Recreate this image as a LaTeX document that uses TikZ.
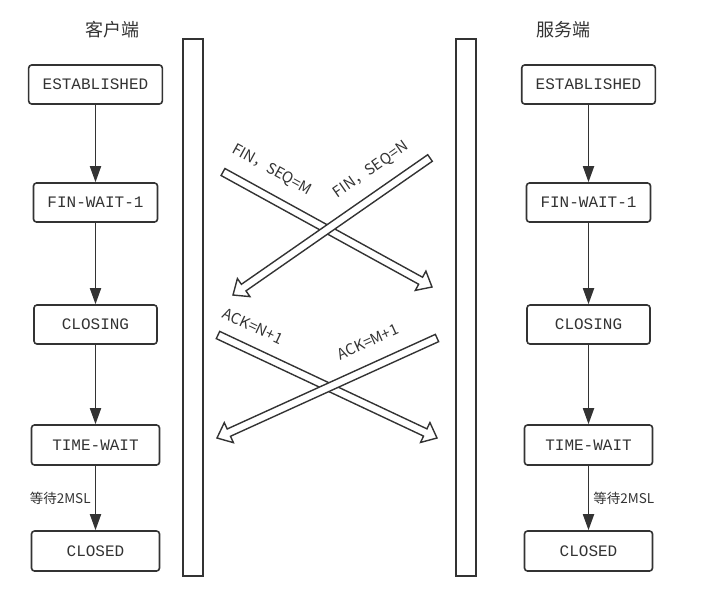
\documentclass[tikz,border=0pt]{standalone}
\usepackage{fontspec}
\setmainfont{Noto Sans CJK SC}
\setmonofont{Liberation Mono}
\usetikzlibrary{arrows.meta,calc}

\definecolor{ink}{HTML}{333333}

\tikzset{
  state/.style={draw=ink, line width=1.6pt, rounded corners=3pt, minimum width=123pt,
    minimum height=39pt, inner xsep=14pt, text=ink, font=\ttfamily\fontsize{16}{19}\selectfont},
  flow/.style={draw=ink, line width=1.8pt, -{Triangle[length=16pt,width=11pt]}},
  side/.style={text=ink, font=\fontsize{18}{21}\selectfont},
  wait/.style={text=ink, inner sep=4pt, font=\fontsize{13.5}{16}\selectfont},
  msg/.style={text=ink, inner sep=0pt, font=\fontsize{15}{17}\selectfont},
  hollow/.style={draw=ink, line width=1.4pt, fill=white, line join=miter},
  bar/.style={draw=ink, line width=1.7pt}
}

\newcommand\hollowarrow[2]{%
  \coordinate (hb) at ($(#2)!13pt!(#1)$);
  \draw[hollow] ($(#1)!4pt!90:(#2)$) -- ($(hb)!4pt!90:(#2)$) -- ($(hb)!11pt!90:(#2)$) -- (#2)
    -- ($(hb)!11pt!-90:(#2)$) -- ($(hb)!4pt!-90:(#2)$) -- ($(#1)!4pt!-90:(#2)$) -- cycle;}

\begin{document}
\begin{tikzpicture}[x=1pt,y=-1pt]
  \useasboundingbox (0,0) rectangle (703,598);

  \node[side] (client) at (112,30) {客户端};
  \node[side] (server) at (563,30) {服务端};

  \draw[bar] (183,39) rectangle (203,576);
  \draw[bar] (456,39) rectangle (476,576);

  % client side
  \node[state] (c1) at (95.5,84.5) {ESTABLISHED};
  \node[state] (c2) at (95.5,202.5) {FIN-WAIT-1};
  \node[state] (c3) at (95.5,324.5) {CLOSING};
  \node[state, minimum width=128pt, minimum height=40pt] (c4) at (95.5,445) {TIME-WAIT};
  \node[state, minimum width=128pt, minimum height=40pt] (c5) at (95.5,551) {CLOSED};

  \draw[flow] (c1) -- (c2);
  \draw[flow] (c2) -- (c3);
  \draw[flow] (c3) -- (c4);
  \draw[flow] (c4) -- node[wait, left] {等待2MSL} (c5);

  % server side
  \node[state] (s1) at (588.5,84.5) {ESTABLISHED};
  \node[state] (s2) at (588.5,202.5) {FIN-WAIT-1};
  \node[state] (s3) at (588.5,324.5) {CLOSING};
  \node[state, minimum width=128pt, minimum height=40pt] (s4) at (588.5,445) {TIME-WAIT};
  \node[state, minimum width=128pt, minimum height=40pt] (s5) at (588.5,551) {CLOSED};

  \draw[flow] (s1) -- (s2);
  \draw[flow] (s2) -- (s3);
  \draw[flow] (s3) -- (s4);
  \draw[flow] (s4) -- node[wait, right] {等待2MSL} (s5);

  % messages
  \coordinate (finM-s) at (223,172);
  \coordinate (finM-e) at (432,287);
  \coordinate (finN-s) at (430,158);
  \coordinate (finN-e) at (233,295);
  \coordinate (ackN-s) at (218,335);
  \coordinate (ackN-e) at (437,438);
  \coordinate (ackM-s) at (437,338);
  \coordinate (ackM-e) at (217,438);

  \hollowarrow{finM-s}{finM-e}
  \hollowarrow{finN-s}{finN-e}
  \hollowarrow{ackN-s}{ackN-e}
  \hollowarrow{ackM-s}{ackM-e}

  \node[msg, rotate=-28.8] (finM) at (272,170) {FIN，SEQ=M};
  \node[msg, rotate=34.8] (finN) at (371,170) {FIN，SEQ=N};
  \node[msg, rotate=-25.2] (ackN) at (253,326) {ACK=N+1};
  \node[msg, rotate=24.4] (ackM) at (368,342) {ACK=M+1};
\end{tikzpicture}
\end{document}
